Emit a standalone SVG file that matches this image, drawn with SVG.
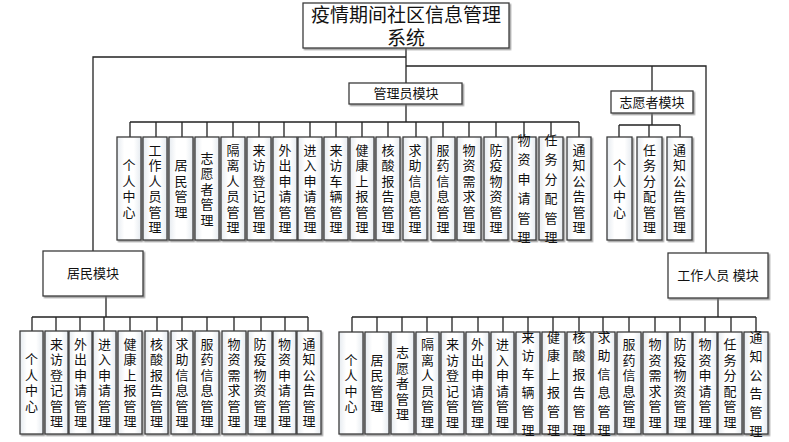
<svg xmlns="http://www.w3.org/2000/svg" width="789" height="442" viewBox="0 0 789 442">
<style>
.bx{fill:url(#gf);stroke:#3c3c3c;stroke-width:1.3;filter:url(#sh)}
.mb{fill:#fff;stroke:#3c3c3c;stroke-width:1.3;filter:url(#sh)}
.t{font-family:"Liberation Sans","Noto Sans CJK SC",sans-serif;font-size:13px;fill:#111;text-anchor:middle;dominant-baseline:central}
.tt{font-family:"Liberation Sans","Noto Sans CJK SC",sans-serif;font-size:19px;fill:#111;text-anchor:middle;dominant-baseline:central}
.c{fill:none;stroke:#222;stroke-width:1.3}
</style>
<defs>
<linearGradient id="gf" x1="0" y1="0" x2="1" y2="0">
<stop offset="0" stop-color="#e6ebf0"/><stop offset="0.3" stop-color="#fff"/><stop offset="0.7" stop-color="#fff"/><stop offset="1" stop-color="#e6ebf0"/>
</linearGradient>
<filter id="sh" x="-20%" y="-20%" width="140%" height="140%">
<feDropShadow dx="1.5" dy="1.5" stdDeviation="0.6" flood-color="#777" flood-opacity="0.7"/>
</filter>
</defs>
<rect width="789" height="442" fill="#fff"/>

<g id="connectors">
<path class="c" d="M406 48V83M406 57H93V251M406 66H706V253M652 66V91"/>
<path class="c" d="M406 104V122M130 122H579M130 122V137M156 122V137M182 122V137M207 122V137M233 122V137M259 122V137M284 122V137M310 122V137M336 122V137M362 122V137M388 122V137M416 122V137M443 122V137M469 122V137M496 122V137M524 122V137M551 122V137M579 122V137"/>
<path class="c" d="M652 113V125M619 125H680M619 125V137M649 125V137M680 125V137"/>
<path class="c" d="M106 296V317M32 317H308M32 317V331M56 317V331M80 317V331M104 317V331M130 317V331M157 317V331M182 317V331M207 317V331M234 317V331M261 317V331M285 317V331M308 317V331"/>
<path class="c" d="M718 298V317M352 317H756M352 317V332M377 317V332M402 317V332M427 317V332M452 317V332M478 317V332M503 317V332M528 317V332M553 317V332M579 317V332M603 317V332M629 317V332M655 317V332M680 317V332M705 317V332M731 317V332M756 317V332"/>
</g>

<g id="title"><rect class="mb" x="303" y="3" width="206" height="45"/><text class="tt" x="406" y="15">疫情期间社区信息管理</text><text class="tt" x="406" y="38">系统</text></g>
<g id="admin"><rect class="mb" x="349" y="83" width="113" height="21"/><text class="t" x="406" y="93.5">管理员模块</text></g>
<g id="volunteer"><rect class="mb" x="611" y="91" width="82" height="22"/><text class="t" x="652" y="102">志愿者模块</text></g>
<g id="resident"><rect class="mb" x="43" y="251" width="100" height="45"/><text class="t" x="93" y="273.5">居民模块</text></g>
<g id="worker"><rect class="mb" x="668" y="253" width="100" height="45"/><text class="t" x="718" y="275.5">工作人员 模块</text></g>

<g id="a1"><rect class="bx" x="117" y="137" width="24" height="103"/><text class="t" y="165.25"><tspan x="129">个</tspan><tspan x="129" dy="15.5">人</tspan><tspan x="129" dy="15.5">中</tspan><tspan x="129" dy="15.5">心</tspan></text></g>
<g id="a2"><rect class="bx" x="143" y="137" width="24" height="103"/><text class="t" y="149.75"><tspan x="155">工</tspan><tspan x="155" dy="15.5">作</tspan><tspan x="155" dy="15.5">人</tspan><tspan x="155" dy="15.5">员</tspan><tspan x="155" dy="15.5">管</tspan><tspan x="155" dy="15.5">理</tspan></text></g>
<g id="a3"><rect class="bx" x="169" y="137" width="24" height="103"/><text class="t" y="165.25"><tspan x="181">居</tspan><tspan x="181" dy="15.5">民</tspan><tspan x="181" dy="15.5">管</tspan><tspan x="181" dy="15.5">理</tspan></text></g>
<g id="a4"><rect class="bx" x="195" y="137" width="24" height="103"/><text class="t" y="157.5"><tspan x="207">志</tspan><tspan x="207" dy="15.5">愿</tspan><tspan x="207" dy="15.5">者</tspan><tspan x="207" dy="15.5">管</tspan><tspan x="207" dy="15.5">理</tspan></text></g>
<g id="a5"><rect class="bx" x="221" y="137" width="24" height="103"/><text class="t" y="149.75"><tspan x="233">隔</tspan><tspan x="233" dy="15.5">离</tspan><tspan x="233" dy="15.5">人</tspan><tspan x="233" dy="15.5">员</tspan><tspan x="233" dy="15.5">管</tspan><tspan x="233" dy="15.5">理</tspan></text></g>
<g id="a6"><rect class="bx" x="247" y="137" width="24" height="103"/><text class="t" y="149.75"><tspan x="259">来</tspan><tspan x="259" dy="15.5">访</tspan><tspan x="259" dy="15.5">登</tspan><tspan x="259" dy="15.5">记</tspan><tspan x="259" dy="15.5">管</tspan><tspan x="259" dy="15.5">理</tspan></text></g>
<g id="a7"><rect class="bx" x="273" y="137" width="24" height="103"/><text class="t" y="149.75"><tspan x="285">外</tspan><tspan x="285" dy="15.5">出</tspan><tspan x="285" dy="15.5">申</tspan><tspan x="285" dy="15.5">请</tspan><tspan x="285" dy="15.5">管</tspan><tspan x="285" dy="15.5">理</tspan></text></g>
<g id="a8"><rect class="bx" x="298" y="137" width="24" height="103"/><text class="t" y="149.75"><tspan x="310">进</tspan><tspan x="310" dy="15.5">入</tspan><tspan x="310" dy="15.5">申</tspan><tspan x="310" dy="15.5">请</tspan><tspan x="310" dy="15.5">管</tspan><tspan x="310" dy="15.5">理</tspan></text></g>
<g id="a9"><rect class="bx" x="324" y="137" width="24" height="103"/><text class="t" y="149.75"><tspan x="336">来</tspan><tspan x="336" dy="15.5">访</tspan><tspan x="336" dy="15.5">车</tspan><tspan x="336" dy="15.5">辆</tspan><tspan x="336" dy="15.5">管</tspan><tspan x="336" dy="15.5">理</tspan></text></g>
<g id="a10"><rect class="bx" x="350" y="137" width="24" height="103"/><text class="t" y="149.75"><tspan x="362">健</tspan><tspan x="362" dy="15.5">康</tspan><tspan x="362" dy="15.5">上</tspan><tspan x="362" dy="15.5">报</tspan><tspan x="362" dy="15.5">管</tspan><tspan x="362" dy="15.5">理</tspan></text></g>
<g id="a11"><rect class="bx" x="376" y="137" width="24" height="103"/><text class="t" y="149.75"><tspan x="388">核</tspan><tspan x="388" dy="15.5">酸</tspan><tspan x="388" dy="15.5">报</tspan><tspan x="388" dy="15.5">告</tspan><tspan x="388" dy="15.5">管</tspan><tspan x="388" dy="15.5">理</tspan></text></g>
<g id="a12"><rect class="bx" x="403" y="137" width="24" height="103"/><text class="t" y="149.75"><tspan x="415">求</tspan><tspan x="415" dy="15.5">助</tspan><tspan x="415" dy="15.5">信</tspan><tspan x="415" dy="15.5">息</tspan><tspan x="415" dy="15.5">管</tspan><tspan x="415" dy="15.5">理</tspan></text></g>
<g id="a13"><rect class="bx" x="431" y="137" width="24" height="103"/><text class="t" y="149.75"><tspan x="443">服</tspan><tspan x="443" dy="15.5">药</tspan><tspan x="443" dy="15.5">信</tspan><tspan x="443" dy="15.5">息</tspan><tspan x="443" dy="15.5">管</tspan><tspan x="443" dy="15.5">理</tspan></text></g>
<g id="a14"><rect class="bx" x="457" y="137" width="24" height="103"/><text class="t" y="149.75"><tspan x="469">物</tspan><tspan x="469" dy="15.5">资</tspan><tspan x="469" dy="15.5">需</tspan><tspan x="469" dy="15.5">求</tspan><tspan x="469" dy="15.5">管</tspan><tspan x="469" dy="15.5">理</tspan></text></g>
<g id="a15"><rect class="bx" x="484" y="137" width="24" height="103"/><text class="t" y="149.75"><tspan x="496">防</tspan><tspan x="496" dy="15.5">疫</tspan><tspan x="496" dy="15.5">物</tspan><tspan x="496" dy="15.5">资</tspan><tspan x="496" dy="15.5">管</tspan><tspan x="496" dy="15.5">理</tspan></text></g>
<g id="a16"><rect class="bx" x="512" y="137" width="24" height="103"/><text class="t" y="140"><tspan x="524">物</tspan><tspan x="524" dy="19.4">资</tspan><tspan x="524" dy="19.4">申</tspan><tspan x="524" dy="19.4">请</tspan><tspan x="524" dy="19.4">管</tspan><tspan x="524" dy="19.4">理</tspan></text></g>
<g id="a17"><rect class="bx" x="539" y="137" width="24" height="103"/><text class="t" y="140"><tspan x="551">任</tspan><tspan x="551" dy="19.4">务</tspan><tspan x="551" dy="19.4">分</tspan><tspan x="551" dy="19.4">配</tspan><tspan x="551" dy="19.4">管</tspan><tspan x="551" dy="19.4">理</tspan></text></g>
<g id="a18"><rect class="bx" x="567" y="137" width="24" height="103"/><text class="t" y="149.75"><tspan x="579">通</tspan><tspan x="579" dy="15.5">知</tspan><tspan x="579" dy="15.5">公</tspan><tspan x="579" dy="15.5">告</tspan><tspan x="579" dy="15.5">管</tspan><tspan x="579" dy="15.5">理</tspan></text></g>

<g id="v1"><rect class="bx" x="607" y="137" width="25" height="103"/><text class="t" y="165.25"><tspan x="619.5">个</tspan><tspan x="619.5" dy="15.5">人</tspan><tspan x="619.5" dy="15.5">中</tspan><tspan x="619.5" dy="15.5">心</tspan></text></g>
<g id="v2"><rect class="bx" x="637" y="137" width="25" height="103"/><text class="t" y="149.75"><tspan x="649.5">任</tspan><tspan x="649.5" dy="15.5">务</tspan><tspan x="649.5" dy="15.5">分</tspan><tspan x="649.5" dy="15.5">配</tspan><tspan x="649.5" dy="15.5">管</tspan><tspan x="649.5" dy="15.5">理</tspan></text></g>
<g id="v3"><rect class="bx" x="667" y="137" width="25" height="103"/><text class="t" y="149.75"><tspan x="679.5">通</tspan><tspan x="679.5" dy="15.5">知</tspan><tspan x="679.5" dy="15.5">公</tspan><tspan x="679.5" dy="15.5">告</tspan><tspan x="679.5" dy="15.5">管</tspan><tspan x="679.5" dy="15.5">理</tspan></text></g>

<g id="r1"><rect class="bx" x="20" y="331" width="23" height="103"/><text class="t" y="359.25"><tspan x="31.5">个</tspan><tspan x="31.5" dy="15.5">人</tspan><tspan x="31.5" dy="15.5">中</tspan><tspan x="31.5" dy="15.5">心</tspan></text></g>
<g id="r2"><rect class="bx" x="45" y="331" width="23" height="103"/><text class="t" y="343.75"><tspan x="56.5">来</tspan><tspan x="56.5" dy="15.5">访</tspan><tspan x="56.5" dy="15.5">登</tspan><tspan x="56.5" dy="15.5">记</tspan><tspan x="56.5" dy="15.5">管</tspan><tspan x="56.5" dy="15.5">理</tspan></text></g>
<g id="r3"><rect class="bx" x="69" y="331" width="23" height="103"/><text class="t" y="343.75"><tspan x="80.5">外</tspan><tspan x="80.5" dy="15.5">出</tspan><tspan x="80.5" dy="15.5">申</tspan><tspan x="80.5" dy="15.5">请</tspan><tspan x="80.5" dy="15.5">管</tspan><tspan x="80.5" dy="15.5">理</tspan></text></g>
<g id="r4"><rect class="bx" x="93" y="331" width="23" height="103"/><text class="t" y="343.75"><tspan x="104.5">进</tspan><tspan x="104.5" dy="15.5">入</tspan><tspan x="104.5" dy="15.5">申</tspan><tspan x="104.5" dy="15.5">请</tspan><tspan x="104.5" dy="15.5">管</tspan><tspan x="104.5" dy="15.5">理</tspan></text></g>
<g id="r5"><rect class="bx" x="118" y="331" width="24" height="103"/><text class="t" y="343.75"><tspan x="130">健</tspan><tspan x="130" dy="15.5">康</tspan><tspan x="130" dy="15.5">上</tspan><tspan x="130" dy="15.5">报</tspan><tspan x="130" dy="15.5">管</tspan><tspan x="130" dy="15.5">理</tspan></text></g>
<g id="r6"><rect class="bx" x="145" y="331" width="23" height="103"/><text class="t" y="343.75"><tspan x="156.5">核</tspan><tspan x="156.5" dy="15.5">酸</tspan><tspan x="156.5" dy="15.5">报</tspan><tspan x="156.5" dy="15.5">告</tspan><tspan x="156.5" dy="15.5">管</tspan><tspan x="156.5" dy="15.5">理</tspan></text></g>
<g id="r7"><rect class="bx" x="171" y="331" width="22" height="103"/><text class="t" y="343.75"><tspan x="182">求</tspan><tspan x="182" dy="15.5">助</tspan><tspan x="182" dy="15.5">信</tspan><tspan x="182" dy="15.5">息</tspan><tspan x="182" dy="15.5">管</tspan><tspan x="182" dy="15.5">理</tspan></text></g>
<g id="r8"><rect class="bx" x="195" y="331" width="24" height="103"/><text class="t" y="343.75"><tspan x="207">服</tspan><tspan x="207" dy="15.5">药</tspan><tspan x="207" dy="15.5">信</tspan><tspan x="207" dy="15.5">息</tspan><tspan x="207" dy="15.5">管</tspan><tspan x="207" dy="15.5">理</tspan></text></g>
<g id="r9"><rect class="bx" x="222" y="331" width="24" height="103"/><text class="t" y="343.75"><tspan x="234">物</tspan><tspan x="234" dy="15.5">资</tspan><tspan x="234" dy="15.5">需</tspan><tspan x="234" dy="15.5">求</tspan><tspan x="234" dy="15.5">管</tspan><tspan x="234" dy="15.5">理</tspan></text></g>
<g id="r10"><rect class="bx" x="248" y="331" width="24" height="103"/><text class="t" y="343.75"><tspan x="260">防</tspan><tspan x="260" dy="15.5">疫</tspan><tspan x="260" dy="15.5">物</tspan><tspan x="260" dy="15.5">资</tspan><tspan x="260" dy="15.5">管</tspan><tspan x="260" dy="15.5">理</tspan></text></g>
<g id="r11"><rect class="bx" x="273" y="331" width="23" height="103"/><text class="t" y="343.75"><tspan x="284.5">物</tspan><tspan x="284.5" dy="15.5">资</tspan><tspan x="284.5" dy="15.5">申</tspan><tspan x="284.5" dy="15.5">请</tspan><tspan x="284.5" dy="15.5">管</tspan><tspan x="284.5" dy="15.5">理</tspan></text></g>
<g id="r12"><rect class="bx" x="297" y="331" width="24" height="103"/><text class="t" y="343.75"><tspan x="309">通</tspan><tspan x="309" dy="15.5">知</tspan><tspan x="309" dy="15.5">公</tspan><tspan x="309" dy="15.5">告</tspan><tspan x="309" dy="15.5">管</tspan><tspan x="309" dy="15.5">理</tspan></text></g>

<g id="w1"><rect class="bx" x="339" y="332" width="24" height="102"/><text class="t" y="359.75"><tspan x="351">个</tspan><tspan x="351" dy="15.5">人</tspan><tspan x="351" dy="15.5">中</tspan><tspan x="351" dy="15.5">心</tspan></text></g>
<g id="w2"><rect class="bx" x="365" y="332" width="24" height="102"/><text class="t" y="359.75"><tspan x="377">居</tspan><tspan x="377" dy="15.5">民</tspan><tspan x="377" dy="15.5">管</tspan><tspan x="377" dy="15.5">理</tspan></text></g>
<g id="w3"><rect class="bx" x="391" y="332" width="23" height="102"/><text class="t" y="352"><tspan x="402.5">志</tspan><tspan x="402.5" dy="15.5">愿</tspan><tspan x="402.5" dy="15.5">者</tspan><tspan x="402.5" dy="15.5">管</tspan><tspan x="402.5" dy="15.5">理</tspan></text></g>
<g id="w4"><rect class="bx" x="416" y="332" width="23" height="102"/><text class="t" y="344.25"><tspan x="427.5">隔</tspan><tspan x="427.5" dy="15.5">离</tspan><tspan x="427.5" dy="15.5">人</tspan><tspan x="427.5" dy="15.5">员</tspan><tspan x="427.5" dy="15.5">管</tspan><tspan x="427.5" dy="15.5">理</tspan></text></g>
<g id="w5"><rect class="bx" x="441" y="332" width="23" height="102"/><text class="t" y="344.25"><tspan x="452.5">来</tspan><tspan x="452.5" dy="15.5">访</tspan><tspan x="452.5" dy="15.5">登</tspan><tspan x="452.5" dy="15.5">记</tspan><tspan x="452.5" dy="15.5">管</tspan><tspan x="452.5" dy="15.5">理</tspan></text></g>
<g id="w6"><rect class="bx" x="466" y="332" width="23" height="102"/><text class="t" y="344.25"><tspan x="477.5">外</tspan><tspan x="477.5" dy="15.5">出</tspan><tspan x="477.5" dy="15.5">申</tspan><tspan x="477.5" dy="15.5">请</tspan><tspan x="477.5" dy="15.5">管</tspan><tspan x="477.5" dy="15.5">理</tspan></text></g>
<g id="w7"><rect class="bx" x="491" y="332" width="23" height="102"/><text class="t" y="344.25"><tspan x="502.5">进</tspan><tspan x="502.5" dy="15.5">入</tspan><tspan x="502.5" dy="15.5">申</tspan><tspan x="502.5" dy="15.5">请</tspan><tspan x="502.5" dy="15.5">管</tspan><tspan x="502.5" dy="15.5">理</tspan></text></g>
<g id="w8"><rect class="bx" x="516" y="332" width="24" height="102"/><text class="t" y="336.5"><tspan x="528">来</tspan><tspan x="528" dy="18.6">访</tspan><tspan x="528" dy="18.6">车</tspan><tspan x="528" dy="18.6">辆</tspan><tspan x="528" dy="18.6">管</tspan><tspan x="528" dy="18.6">理</tspan></text></g>
<g id="w9"><rect class="bx" x="542" y="332" width="23" height="102"/><text class="t" y="336.5"><tspan x="553.5">健</tspan><tspan x="553.5" dy="18.6">康</tspan><tspan x="553.5" dy="18.6">上</tspan><tspan x="553.5" dy="18.6">报</tspan><tspan x="553.5" dy="18.6">管</tspan><tspan x="553.5" dy="18.6">理</tspan></text></g>
<g id="w10"><rect class="bx" x="567" y="332" width="24" height="102"/><text class="t" y="336.5"><tspan x="579">核</tspan><tspan x="579" dy="18.6">酸</tspan><tspan x="579" dy="18.6">报</tspan><tspan x="579" dy="18.6">告</tspan><tspan x="579" dy="18.6">管</tspan><tspan x="579" dy="18.6">理</tspan></text></g>
<g id="w11"><rect class="bx" x="593" y="332" width="22" height="102"/><text class="t" y="336.5"><tspan x="604">求</tspan><tspan x="604" dy="18.6">助</tspan><tspan x="604" dy="18.6">信</tspan><tspan x="604" dy="18.6">息</tspan><tspan x="604" dy="18.6">管</tspan><tspan x="604" dy="18.6">理</tspan></text></g>
<g id="w12"><rect class="bx" x="617" y="332" width="24" height="102"/><text class="t" y="344.25"><tspan x="629">服</tspan><tspan x="629" dy="15.5">药</tspan><tspan x="629" dy="15.5">信</tspan><tspan x="629" dy="15.5">息</tspan><tspan x="629" dy="15.5">管</tspan><tspan x="629" dy="15.5">理</tspan></text></g>
<g id="w13"><rect class="bx" x="643" y="332" width="24" height="102"/><text class="t" y="344.25"><tspan x="655">物</tspan><tspan x="655" dy="15.5">资</tspan><tspan x="655" dy="15.5">需</tspan><tspan x="655" dy="15.5">求</tspan><tspan x="655" dy="15.5">管</tspan><tspan x="655" dy="15.5">理</tspan></text></g>
<g id="w14"><rect class="bx" x="668" y="332" width="24" height="102"/><text class="t" y="344.25"><tspan x="680">防</tspan><tspan x="680" dy="15.5">疫</tspan><tspan x="680" dy="15.5">物</tspan><tspan x="680" dy="15.5">资</tspan><tspan x="680" dy="15.5">管</tspan><tspan x="680" dy="15.5">理</tspan></text></g>
<g id="w15"><rect class="bx" x="693" y="332" width="24" height="102"/><text class="t" y="344.25"><tspan x="705">物</tspan><tspan x="705" dy="15.5">资</tspan><tspan x="705" dy="15.5">申</tspan><tspan x="705" dy="15.5">请</tspan><tspan x="705" dy="15.5">管</tspan><tspan x="705" dy="15.5">理</tspan></text></g>
<g id="w16"><rect class="bx" x="718" y="332" width="24" height="102"/><text class="t" y="344.25"><tspan x="730">任</tspan><tspan x="730" dy="15.5">务</tspan><tspan x="730" dy="15.5">分</tspan><tspan x="730" dy="15.5">配</tspan><tspan x="730" dy="15.5">管</tspan><tspan x="730" dy="15.5">理</tspan></text></g>
<g id="w17"><rect class="bx" x="744" y="332" width="24" height="102"/><text class="t" y="337"><tspan x="756">通</tspan><tspan x="756" dy="18.8">知</tspan><tspan x="756" dy="18.8">公</tspan><tspan x="756" dy="18.8">告</tspan><tspan x="756" dy="18.8">管</tspan><tspan x="756" dy="18.8">理</tspan></text></g>
</svg>
